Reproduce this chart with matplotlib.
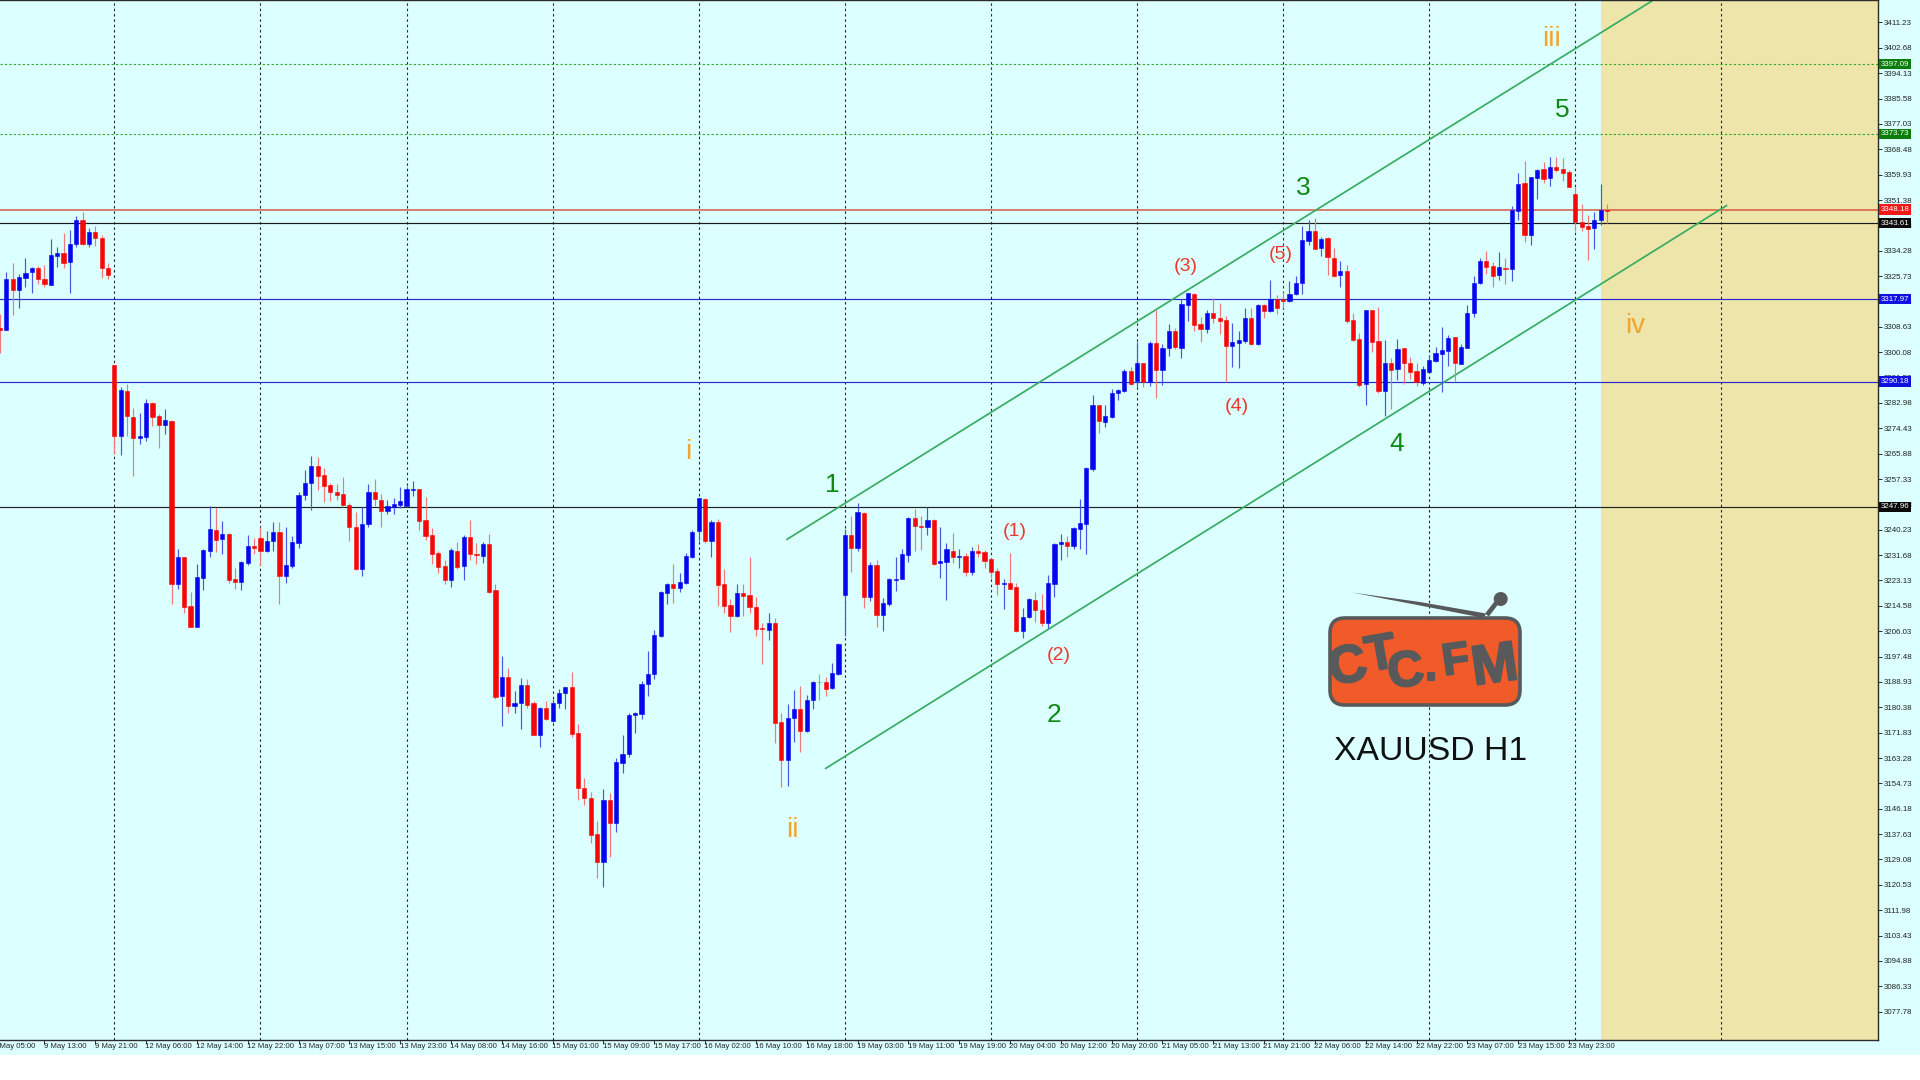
import matplotlib
matplotlib.use("Agg")
import matplotlib.pyplot as plt
import matplotlib.patheffects as pe
from matplotlib.patches import Rectangle, FancyBboxPatch, Polygon, Circle

plt.rcParams['font.family'] = ['Liberation Sans', 'DejaVu Sans']

# candles, bar by bar
opens = [3308.1, 3307.5, 3324.6, 3321.2, 3325.2, 3327.1, 3328.3, 3324.7, 3322.8, 3332.6, 3333.4, 3330.6, 3336.7, 3344.8, 3336.4, 3340.6, 3338.5, 3328.3,
         3295.7, 3271.9, 3287.1, 3278.2, 3271.3, 3271.6, 3283.1, 3278.5, 3275.7, 3277.0, 3221.9, 3230.9, 3214.5, 3207.5, 3224.1, 3233.1, 3240.3, 3237.2, 3238.7, 3223.6, 3222.7, 3229.1, 3234.8,
         3237.3, 3233.0, 3236.3, 3239.4, 3224.6, 3228.1, 3235.9, 3252.1, 3256.0, 3261.7, 3258.6, 3255.3, 3253.0, 3252.2, 3248.5, 3241.0, 3226.9, 3242.1, 3252.8, 3250.4, 3246.5, 3248.0, 3248.7,
         3248.3, 3253.5, 3253.8,
         3243.5, 3238.4, 3232.3, 3228.0, 3223.2, 3233.2, 3228.0, 3237.7, 3232.1, 3231.5, 3235.4, 3219.9, 3184.2, 3190.7, 3180.9, 3181.7, 3187.8, 3181.7, 3171.0, 3180.0, 3175.7, 3181.7, 3185.3,
         3187.3, 3171.6, 3153.3, 3149.9, 3137.6, 3128.2, 3149.3, 3141.5, 3161.7, 3164.6, 3177.7, 3178.1, 3188.1, 3191.6, 3204.4, 3218.9, 3222.1, 3220.5, 3222.2, 3231.2, 3239.9, 3250.7, 3236.5,
         3242.7, 3221.8, 3214.9, 3211.2, 3219.0, 3218.1, 3214.3, 3207.1, 3206.5, 3208.8, 3175.5, 3162.5, 3176.8, 3179.7, 3172.3, 3182.8, 3188.9, 3188.8, 3186.8, 3191.6, 3218.2, 3238.6, 3234.2,
         3246.0, 3217.6, 3228.2, 3211.5, 3215.1, 3223.3, 3223.5, 3231.7, 3244.1, 3241.6, 3241.1, 3243.5, 3229.0, 3229.3, 3233.2, 3230.9, 3231.4, 3225.9, 3233.0, 3232.7, 3230.4, 3226.4, 3221.9,
         3222.3, 3220.8, 3206.1, 3210.7, 3216.7, 3213.2, 3208.9, 3222.1, 3235.4, 3236.0, 3234.7, 3240.6, 3242.2, 3260.6, 3282.3, 3276.7, 3278.1, 3286.2,
         3287.1, 3293.9, 3290.4, 3296.6, 3289.9, 3303.3, 3294.1, 3301.4, 3307.2, 3301.6, 3316.0, 3319.7, 3309.6, 3308.0, 3313.4, 3311.7, 3310.9, 3302.2, 3303.3, 3304.0, 3311.7,
         3302.7, 3316.0, 3313.9, 3318.1, 3318.1, 3317.3, 3319.6, 3323.3, 3337.4, 3340.9, 3335.1, 3338.6, 3332.0, 3326.1, 3327.5, 3310.9, 3304.5, 3289.2, 3314.2, 3303.9, 3287.1, 3296.6, 3294.4,
         3301.4, 3296.3, 3293.8, 3289.8, 3293.5, 3297.2, 3299.4, 3300.5, 3305.1, 3296.2, 3301.5, 3313.2, 3323.3, 3330.8, 3329.1, 3326.0, 3328.6, 3328.2, 3347.8, 3357.0, 3339.6, 3358.9, 3361.7,
         3358.7, 3362.6, 3361.7, 3360.8, 3353.3, 3344.1, 3342.6, 3341.8, 3344.6, 3348.0]
highs = [3313.1, 3327.2, 3330.2, 3326.6, 3332.0, 3328.9, 3329.1, 3329.4, 3338.1, 3335.4, 3340.1, 3341.2, 3346.0, 3347.2, 3342.1, 3342.6, 3339.6, 3330.0,
         3295.7, 3288.4, 3289.3, 3281.4, 3279.6, 3284.3, 3283.4, 3279.4, 3281.1, 3277.2, 3233.7, 3230.9, 3219.1, 3228.6, 3233.6, 3248.2, 3247.6, 3243.2, 3239.2, 3227.2, 3229.7, 3238.4, 3237.6,
         3241.0, 3239.9, 3242.9, 3242.9, 3241.0, 3238.1, 3253.0, 3260.3, 3265.0, 3264.6, 3260.9, 3256.0, 3255.7, 3258.1, 3249.3, 3246.3, 3248.0, 3255.6, 3257.3, 3252.2, 3250.4, 3250.8, 3254.5,
         3254.9, 3256.6, 3254.1,
         3251.4, 3240.9, 3233.2, 3230.0, 3234.0, 3236.2, 3238.5, 3243.5, 3235.9, 3236.2, 3238.7, 3222.0, 3197.7, 3193.5, 3185.9, 3190.1, 3189.8, 3182.5, 3180.6, 3182.6, 3183.1, 3186.4, 3187.3,
         3192.2, 3174.7, 3156.4, 3151.9, 3142.1, 3153.0, 3151.4, 3163.2, 3171.0, 3178.3, 3178.9, 3189.3, 3199.3, 3206.4, 3219.6, 3222.2, 3228.7, 3225.5, 3232.3, 3240.2, 3251.1, 3250.8, 3243.5,
         3244.0, 3226.9, 3216.8, 3222.0, 3222.0, 3230.9, 3217.7, 3208.9, 3212.3, 3210.4, 3178.6, 3181.4, 3186.2, 3187.5, 3184.5, 3189.3, 3191.5, 3190.5, 3195.4, 3202.2, 3240.4, 3244.9, 3249.4,
         3246.3, 3229.4, 3230.0, 3217.3, 3224.1, 3231.1, 3233.9, 3244.6, 3247.2, 3244.9, 3248.0, 3243.8, 3241.3, 3235.6, 3239.3, 3233.6, 3232.3, 3234.5, 3235.4, 3233.4, 3230.8, 3227.2, 3223.6,
         3232.3, 3222.4, 3213.7, 3217.3, 3219.3, 3218.6, 3225.0, 3235.9, 3238.8, 3238.1, 3241.3, 3250.5, 3261.3, 3285.7, 3282.3, 3282.3, 3287.6, 3287.6,
         3294.3, 3295.2, 3303.6, 3296.6, 3304.0, 3314.3, 3302.7, 3309.5, 3308.1, 3317.9, 3320.2, 3319.9, 3311.8, 3314.3, 3318.2, 3316.6, 3312.3, 3309.8, 3307.3, 3314.9, 3314.9,
         3316.2, 3316.2, 3324.4, 3319.3, 3320.4, 3324.1, 3325.9, 3342.7, 3344.6, 3345.2, 3339.0, 3338.8, 3335.1, 3330.9, 3329.4, 3313.4, 3306.7, 3314.3, 3314.3, 3315.4, 3304.2, 3298.2, 3304.5,
         3301.4, 3298.5, 3296.6, 3295.4, 3299.1, 3301.7, 3308.7, 3306.0, 3305.3, 3302.8, 3316.0, 3325.7, 3331.7, 3334.3, 3330.6, 3333.9, 3332.0, 3349.5, 3360.4, 3364.6, 3359.2, 3361.7, 3364.3,
         3365.8, 3365.8, 3365.4, 3361.5, 3355.9, 3350.2, 3346.3, 3347.4, 3356.8, 3350.0]
lows = [3299.7, 3307.5, 3312.6, 3315.0, 3321.9, 3319.9, 3323.0, 3321.9, 3322.6, 3328.7, 3328.3, 3319.9, 3335.6, 3336.2, 3335.6, 3336.0, 3325.2, 3324.7,
        3265.6, 3265.4, 3271.8, 3258.4, 3269.0, 3270.1, 3275.2, 3267.8, 3272.5, 3215.3, 3220.1, 3212.3, 3207.3, 3207.3, 3219.9, 3231.1, 3232.8, 3232.2, 3222.4, 3220.4, 3219.9, 3228.3, 3232.2,
        3228.5, 3232.8, 3233.0, 3215.1, 3222.4, 3227.4, 3234.1, 3250.4, 3246.8, 3253.6, 3249.6, 3250.0, 3250.2, 3248.0, 3236.5, 3226.6, 3224.8, 3241.2, 3248.2, 3241.2, 3245.4, 3245.7, 3247.4,
        3248.0, 3251.5, 3240.1,
        3236.8, 3228.7, 3225.8, 3222.0, 3221.0, 3226.9, 3223.3, 3230.0, 3228.6, 3229.1, 3218.8, 3183.2, 3174.1, 3178.6, 3178.3, 3172.9, 3180.0, 3170.9, 3167.1, 3176.1, 3175.5, 3180.2, 3179.7,
        3170.5, 3149.1, 3147.4, 3134.5, 3122.7, 3119.9, 3129.8, 3138.4, 3158.3, 3163.7, 3171.6, 3176.5, 3184.3, 3189.8, 3204.0, 3215.2, 3215.6, 3219.1, 3222.0, 3230.6, 3236.4, 3235.9, 3231.2,
        3214.5, 3212.3, 3205.9, 3210.9, 3211.2, 3212.3, 3204.4, 3195.0, 3203.1, 3168.4, 3153.4, 3153.9, 3168.6, 3165.2, 3172.1, 3179.7, 3182.8, 3184.2, 3186.7, 3191.4, 3204.4, 3225.9, 3232.9,
        3213.9, 3216.3, 3207.5, 3206.1, 3214.5, 3219.7, 3223.5, 3229.5, 3233.2, 3233.4, 3238.4, 3228.3, 3224.1, 3216.5, 3228.9, 3227.5, 3224.8, 3225.0, 3230.9, 3227.5, 3223.8, 3218.2, 3213.4,
        3220.1, 3205.9, 3203.9, 3210.6, 3209.2, 3207.8, 3207.0, 3217.6, 3230.0, 3231.1, 3233.9, 3233.9, 3232.0, 3260.1, 3272.9, 3275.0, 3277.8, 3284.0,
        3286.8, 3289.0, 3288.5, 3288.2, 3288.7, 3284.5, 3289.0, 3298.8, 3301.0, 3298.0, 3310.7, 3307.3, 3303.6, 3306.7, 3309.8, 3306.2, 3290.2, 3295.0, 3294.9, 3303.3, 3302.5,
        3302.5, 3311.5, 3313.7, 3312.8, 3315.1, 3316.9, 3319.3, 3319.7, 3336.2, 3334.7, 3332.5, 3326.1, 3325.3, 3322.1, 3309.8, 3303.8, 3288.2, 3282.2, 3300.2, 3286.4, 3278.5, 3281.0, 3290.7,
        3289.5, 3291.2, 3288.6, 3289.0, 3293.1, 3296.9, 3286.7, 3295.4, 3290.4, 3296.0, 3301.4, 3312.0, 3323.0, 3326.4, 3322.1, 3324.4, 3323.0, 3324.1, 3344.6, 3337.1, 3336.2, 3351.7, 3357.0,
        3356.1, 3360.7, 3357.9, 3355.6, 3341.0, 3341.0, 3331.1, 3335.0, 3342.9, 3343.7]
closes = [3307.5, 3324.6, 3321.0, 3325.3, 3326.9, 3328.3, 3324.6, 3322.9, 3332.8, 3333.4, 3330.2, 3336.7, 3344.8, 3336.4, 3340.6, 3338.5, 3328.4, 3326.1,
          3271.9, 3287.3, 3278.6, 3271.3, 3271.8, 3283.1, 3278.3, 3275.7, 3277.2, 3222.1, 3230.9, 3214.2, 3207.5, 3224.3, 3233.3, 3240.4, 3236.7, 3238.7, 3223.4, 3222.7, 3229.2, 3234.9, 3234.1,
          3233.0, 3236.4, 3239.4, 3224.6, 3228.3, 3236.2, 3252.1, 3256.0, 3261.7, 3258.5, 3254.9, 3252.9, 3251.9, 3248.5, 3241.0, 3226.9, 3242.1, 3252.8, 3250.5, 3246.5, 3248.2, 3249.0, 3249.8,
          3254.0, 3253.8, 3243.2,
          3238.1, 3232.1, 3227.8, 3223.2, 3233.4, 3227.8, 3237.7, 3232.1, 3231.7, 3235.4, 3219.4, 3183.9, 3190.7, 3180.9, 3181.9, 3187.8, 3181.1, 3171.0, 3180.1, 3176.5, 3181.9, 3185.3, 3187.1,
          3171.4, 3153.3, 3149.7, 3137.5, 3128.2, 3149.3, 3141.5, 3161.9, 3164.8, 3177.7, 3178.6, 3188.4, 3191.6, 3204.6, 3219.4, 3222.1, 3220.5, 3222.6, 3231.5, 3239.6, 3250.8, 3236.4, 3242.7,
          3221.6, 3214.6, 3211.2, 3219.0, 3217.9, 3214.3, 3206.9, 3206.7, 3208.7, 3175.0, 3162.5, 3176.8, 3179.7, 3172.3, 3182.9, 3188.9, 3188.9, 3186.5, 3192.0, 3201.7, 3238.6, 3234.2, 3246.1,
          3217.6, 3228.2, 3211.5, 3215.4, 3223.6, 3223.6, 3232.0, 3244.2, 3241.5, 3241.3, 3243.5, 3228.6, 3229.6, 3233.6, 3230.9, 3231.3, 3225.9, 3233.0, 3232.5, 3229.7, 3226.1, 3221.9, 3222.3,
          3220.3, 3206.1, 3210.7, 3216.9, 3213.2, 3208.7, 3222.4, 3235.4, 3236.0, 3234.9, 3240.8, 3242.4, 3260.9, 3282.3, 3276.8, 3278.6, 3286.2, 3287.3,
          3293.9, 3289.4, 3296.6, 3289.9, 3303.3, 3294.1, 3301.6, 3307.2, 3301.7, 3316.3, 3319.9, 3309.3, 3307.9, 3313.4, 3311.5, 3310.7, 3302.2, 3303.5, 3304.3, 3311.7, 3302.8,
          3316.0, 3313.9, 3318.1, 3315.1, 3317.5, 3319.7, 3323.5, 3337.9, 3340.9, 3334.8, 3338.4, 3332.3, 3325.9, 3327.4, 3310.7, 3304.2, 3289.0, 3314.2, 3303.6, 3287.1, 3296.6, 3294.0, 3301.2,
          3296.3, 3293.4, 3289.9, 3294.3, 3297.4, 3299.7, 3300.7, 3304.7, 3296.5, 3301.7, 3313.4, 3323.5, 3330.8, 3328.9, 3325.9, 3328.7, 3328.2, 3348.0, 3356.8, 3339.6, 3359.2, 3361.5, 3358.6,
          3362.6, 3361.5, 3360.6, 3355.9, 3343.8, 3342.4, 3341.5, 3344.8, 3348.0, 3347.8]

price_ticks = [3411.23, 3402.68, 3394.13, 3385.58, 3377.03, 3368.48, 3359.93, 3351.38, 3342.83, 3334.28, 3325.73, 3317.18, 3308.63, 3300.08,
               3291.53, 3282.98, 3274.43, 3265.88, 3257.33, 3248.78, 3240.23, 3231.68, 3223.13, 3214.58, 3206.03, 3197.48, 3188.93, 3180.38,
               3171.83, 3163.28, 3154.73, 3146.18, 3137.63, 3129.08, 3120.53, 3111.98, 3103.43, 3094.88, 3086.33, 3077.78]
time_labels = ["9 May 05:00", "9 May 13:00", "9 May 21:00", "12 May 06:00", "12 May 14:00", "12 May 22:00", "13 May 07:00", "13 May 15:00",
               "13 May 23:00", "14 May 08:00", "14 May 16:00", "15 May 01:00", "15 May 09:00", "15 May 17:00", "16 May 02:00", "16 May 10:00",
               "16 May 18:00", "19 May 03:00", "19 May 11:00", "19 May 19:00", "20 May 04:00", "20 May 12:00", "20 May 20:00", "21 May 05:00",
               "21 May 13:00", "21 May 21:00", "22 May 06:00", "22 May 14:00", "22 May 22:00", "23 May 07:00", "23 May 15:00", "23 May 23:00"]
time_bars = [-1, 7, 15, 23, 31, 39, 47, 55, 63, 71, 79, 87, 95, 103, 111, 119, 127, 135, 143, 151, 159, 167, 175, 183, 191, 199, 207, 215, 223, 231, 239, 247]
day_bars = [18, 41, 64, 87, 110, 133, 156, 179, 202, 225, 248, 271]

level_prices = [3397.09, 3373.73, 3348.18, 3343.61, 3317.97, 3290.18, 3247.96]
level_colors = ['#2ea82e', '#2ea82e', '#d9503c', '#1a1a1a', '#2a2acc', '#2a2acc', '#222222']
label_colors = ['#0a7d0a', '#0a7d0a', '#f01818', '#0a0a0a', '#1010e0', '#1010e0', '#0a0a0a']

channel_bars = [[123.9, 260.3], [130.0, 271.8]]
channel_prices = [[3237.0, 3418.8], [3159.8, 3349.5]]

green_waves = ["1", "2", "3", "4", "5"]
green_bars = [131.1, 165.9, 205.2, 219.9, 246.0]
green_prices = [3255.2, 3177.7, 3355.4, 3269.0, 3381.8]
orange_waves = ["i", "ii", "iii", "iv"]
orange_bars = [108.3, 124.7, 244.2, 257.4]
orange_prices = [3266.4, 3138.9, 3405.6, 3309.0]
red_waves = ["(1)", "(2)", "(3)", "(4)", "(5)"]
red_bars = [159.8, 166.7, 186.6, 194.7, 201.7]
red_prices = [3239.8, 3198.0, 3328.8, 3281.7, 3333.0]

future_start = 252

CYAN = '#dcffff'
TAN = '#ede5a9'
DARK = '#2b2b2b'

fig = plt.figure(figsize=(19.2, 10.8), dpi=100, facecolor='white')
fig.add_artist(Rectangle((0, 1 - 1055 / 1080), 1, 1055 / 1080, transform=fig.transFigure, fc=CYAN, ec='none', zorder=-10))

ax = fig.add_axes([0, 1 - 1039.5 / 1080, 1878 / 1920, 1039.5 / 1080], facecolor=CYAN)
ax.set_xlim(0, 295.65)
ax.set_ylim(3068.4, 3418.8)

ax.axvspan(future_start, 295.65, color=TAN, lw=0, zorder=0)
for b in day_bars:
    ax.axvline(b, color='#262626', lw=0.8, ls=(0, (2.2, 2.6)), zorder=1)
for p, c in zip(level_prices, level_colors):
    if c == '#2ea82e':
        ax.axhline(p, color=c, lw=0.8, ls=(0, (2, 2)), zorder=1.5)
    elif c == '#d9503c':
        ax.axhline(p, color=c, lw=1.4, alpha=0.75, zorder=1.5)
    else:
        ax.axhline(p, color=c, lw=0.85, zorder=1.5)

for xs, ys in zip(channel_bars, channel_prices):
    ax.plot(xs, ys, color='#38ad62', lw=1.25, zorder=2)

# candles
for i in range(len(opens)):
    o, h, l, c = opens[i], highs[i], lows[i], closes[i]
    if o == c:
        body, wick = '#30d040', '#50dd60'
    elif c > o:
        body, wick = '#0606ee', '#4a55e0'
    else:
        body, wick = '#f40808', '#f07878'
    ax.vlines(i, l, h, color=wick, lw=0.85, zorder=3)
    ax.bar(i, abs(c - o), bottom=min(o, c), width=0.66, color=body, edgecolor=body, lw=0.4, zorder=4)

for txt, x, y in zip(green_waves, green_bars, green_prices):
    ax.text(x, y, txt, color='#0c8a14', fontsize=19, ha='center', va='center', zorder=5)
for txt, x, y in zip(orange_waves, orange_bars, orange_prices):
    ax.text(x, y, txt, color='#f2a52e', fontsize=20, ha='center', va='center', zorder=5)
for txt, x, y in zip(red_waves, red_bars, red_prices):
    ax.text(x, y, txt, color='#ea3a30', fontsize=14, ha='center', va='center', zorder=5)

for side in ['top', 'right', 'bottom']:
    ax.spines[side].set_color(DARK)
    ax.spines[side].set_linewidth(1.0)
ax.spines['left'].set_visible(False)

ax.yaxis.tick_right()
ax.set_yticks(price_ticks)
ax.set_yticklabels([f"{p:.2f}" for p in price_ticks])
ax.tick_params(axis='y', length=3, width=0.7, color=DARK, labelcolor='#222222', labelsize=5.7, pad=1.2)
ax.set_xticks([b for b in time_bars if b >= 0])
ax.set_xticklabels([])
ax.tick_params(axis='x', length=3, width=0.7, color=DARK)
tr = ax.get_xaxis_transform()
for b, lab in zip(time_bars, time_labels):
    ax.text(b - 0.1, -0.0038, lab, transform=tr, ha='left', va='top', fontsize=5.6, color='#222222', clip_on=False)

# coloured price tags on the axis
tag_tr = ax.get_yaxis_transform()
for p, c in zip(level_prices, label_colors):
    ax.text(1.0014, p, f"{p:.2f}", transform=tag_tr, ha='left', va='center', fontsize=5.7, color='white', clip_on=False,
            zorder=10, bbox=dict(boxstyle='square,pad=0.2', fc=c, ec='none'))

# logo and symbol name, placed in figure pixels
ov = fig.add_axes([0, 0, 1, 1], facecolor='none')
ov.set_xlim(0, 1920)
ov.set_ylim(1080, 0)
ov.axis('off')
GREY = '#58595b'
ov.add_patch(Polygon([(1352, 592.5), (1420, 602), (1486, 613.5), (1484, 618), (1420, 605.5)], fc=GREY, ec='none'))
ov.plot([1487, 1497], [615, 602], color=GREY, lw=3.4, solid_capstyle='butt')
ov.add_patch(Circle((1500.7, 599), 7, fc=GREY, ec='none'))
ov.add_patch(FancyBboxPatch((1330, 618), 190, 87, boxstyle='round,pad=0,rounding_size=15', fc='#f15a29', ec=GREY, lw=2.6))
logo_letters = ["C", "T", "C", ".", "F", "M"]
logo_x = [1348, 1381, 1406, 1431, 1456, 1495]
logo_y = [668, 656, 673, 668, 662, 668]
logo_rot = [12, 10, 8, 0, 8, 8]
logo_size = [38, 36, 36, 34, 32, 40]
for ch, x, y, r, s in zip(logo_letters, logo_x, logo_y, logo_rot, logo_size):
    ov.text(x, y, ch, rotation=r, fontsize=s, fontweight='bold', color=GREY, ha='center', va='center',
            family=['Liberation Sans Narrow', 'Liberation Sans'],
            path_effects=[pe.withStroke(linewidth=1.5, foreground=GREY)])
ov.text(1431, 751, "XAUUSD H1", fontsize=24.3, color='#111111', ha='center', va='center')

fig.savefig('out.png', dpi=100, facecolor=fig.get_facecolor())
